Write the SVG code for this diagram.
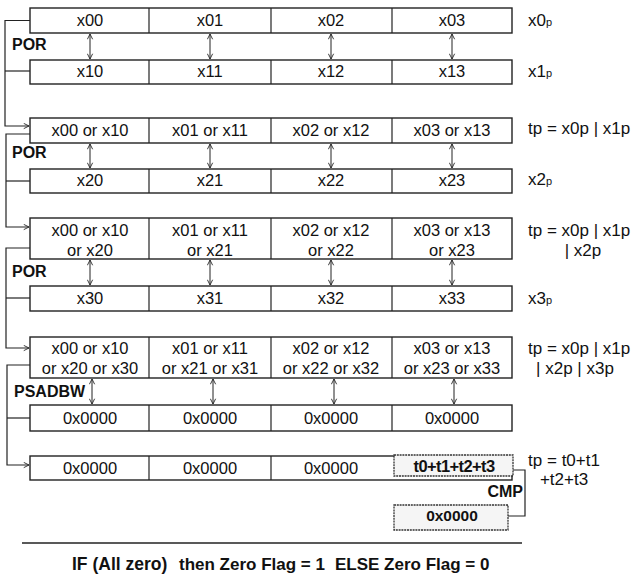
<svg xmlns="http://www.w3.org/2000/svg" width="635" height="576" viewBox="0 0 635 576">
<style>
.box{fill:#fff;stroke:#222;stroke-width:1.4}
.div{stroke:#222;stroke-width:1.2}
.c{font-family:"Liberation Sans",Arial,sans-serif;font-size:16.5px;fill:#111;text-anchor:middle}
.lb{font-family:"Liberation Sans",Arial,sans-serif;font-size:17px;fill:#111}
.op{font-family:"Liberation Sans",Arial,sans-serif;font-size:16px;font-weight:bold;fill:#111}
.sub{font-size:11px}
.ln{fill:none;stroke:#222;stroke-width:1.2}
.ar{fill:none;stroke:#222;stroke-width:1}
.dot{fill:#f5f5f5;stroke:#333;stroke-width:1.3;stroke-dasharray:2 0.8}
</style>
<defs>
<marker id="ah" viewBox="0 0 8 8" refX="7" refY="4" markerWidth="7" markerHeight="7" orient="auto-start-reverse" markerUnits="userSpaceOnUse">
<path d="M1,1 L7,4 L1,7" fill="none" stroke="#222" stroke-width="1"/>
</marker>
</defs>

<g id="row1">
<rect class="box" x="30" y="8" width="482" height="25"/>
<line class="div" x1="149" y1="8" x2="149" y2="33"/><line class="div" x1="271" y1="8" x2="271" y2="33"/><line class="div" x1="392" y1="8" x2="392" y2="33"/>
<text class="c" x="90" y="26">x00</text><text class="c" x="210" y="26">x01</text><text class="c" x="331" y="26">x02</text><text class="c" x="452" y="26">x03</text>
<text class="lb" x="528" y="26">x0<tspan class="sub">p</tspan></text>
</g>
<g id="row2">
<rect class="box" x="30" y="60" width="482" height="24"/>
<line class="div" x1="149" y1="60" x2="149" y2="84"/><line class="div" x1="271" y1="60" x2="271" y2="84"/><line class="div" x1="392" y1="60" x2="392" y2="84"/>
<text class="c" x="90" y="77">x10</text><text class="c" x="210" y="77">x11</text><text class="c" x="331" y="77">x12</text><text class="c" x="452" y="77">x13</text>
<text class="lb" x="528" y="77">x1<tspan class="sub">p</tspan></text>
</g>
<g id="row3">
<rect class="box" x="30" y="118" width="482" height="25"/>
<line class="div" x1="149" y1="118" x2="149" y2="143"/><line class="div" x1="271" y1="118" x2="271" y2="143"/><line class="div" x1="392" y1="118" x2="392" y2="143"/>
<text class="c" x="90" y="136">x00 or x10</text><text class="c" x="210" y="136">x01 or x11</text><text class="c" x="331" y="136">x02 or x12</text><text class="c" x="452" y="136">x03 or x13</text>
<text class="lb" x="528" y="134">tp = x0p | x1p</text>
</g>
<g id="row4">
<rect class="box" x="30" y="169" width="482" height="24"/>
<line class="div" x1="149" y1="169" x2="149" y2="193"/><line class="div" x1="271" y1="169" x2="271" y2="193"/><line class="div" x1="392" y1="169" x2="392" y2="193"/>
<text class="c" x="90" y="186">x20</text><text class="c" x="210" y="186">x21</text><text class="c" x="331" y="186">x22</text><text class="c" x="452" y="186">x23</text>
<text class="lb" x="528" y="185">x2<tspan class="sub">p</tspan></text>
</g>
<g id="row5">
<rect class="box" x="30" y="218" width="482" height="41"/>
<line class="div" x1="149" y1="218" x2="149" y2="259"/><line class="div" x1="271" y1="218" x2="271" y2="259"/><line class="div" x1="392" y1="218" x2="392" y2="259"/>
<text class="c" x="90" y="236">x00 or x10</text><text class="c" x="90" y="256">or x20</text>
<text class="c" x="210" y="236">x01 or x11</text><text class="c" x="210" y="256">or x21</text>
<text class="c" x="331" y="236">x02 or x12</text><text class="c" x="331" y="256">or x22</text>
<text class="c" x="452" y="236">x03 or x13</text><text class="c" x="452" y="256">or x23</text>
<text class="lb" x="528" y="236">tp = x0p | x1p</text>
<text class="lb" x="583" y="256" text-anchor="middle">| x2p</text>
</g>
<g id="row6">
<rect class="box" x="30" y="286" width="482" height="25"/>
<line class="div" x1="149" y1="286" x2="149" y2="311"/><line class="div" x1="271" y1="286" x2="271" y2="311"/><line class="div" x1="392" y1="286" x2="392" y2="311"/>
<text class="c" x="90" y="304">x30</text><text class="c" x="210" y="304">x31</text><text class="c" x="331" y="304">x32</text><text class="c" x="452" y="304">x33</text>
<text class="lb" x="528" y="304">x3<tspan class="sub">p</tspan></text>
</g>
<g id="row7">
<rect class="box" x="30" y="337" width="482" height="41"/>
<line class="div" x1="149" y1="337" x2="149" y2="378"/><line class="div" x1="271" y1="337" x2="271" y2="378"/><line class="div" x1="392" y1="337" x2="392" y2="378"/>
<text class="c" x="90" y="354">x00 or x10</text><text class="c" x="90" y="374">or x20 or x30</text>
<text class="c" x="210" y="354">x01 or x11</text><text class="c" x="210" y="374">or x21 or x31</text>
<text class="c" x="331" y="354">x02 or x12</text><text class="c" x="331" y="374">or x22 or x32</text>
<text class="c" x="452" y="354">x03 or x13</text><text class="c" x="452" y="374">or x23 or x33</text>
<text class="lb" x="528" y="354">tp = x0p | x1p</text>
<text class="lb" x="575" y="374" text-anchor="middle">| x2p | x3p</text>
</g>
<g id="row8">
<rect class="box" x="30" y="405" width="482" height="26"/>
<line class="div" x1="149" y1="405" x2="149" y2="431"/><line class="div" x1="271" y1="405" x2="271" y2="431"/><line class="div" x1="392" y1="405" x2="392" y2="431"/>
<text class="c" x="90" y="424">0x0000</text><text class="c" x="210" y="424">0x0000</text><text class="c" x="331" y="424">0x0000</text><text class="c" x="452" y="424">0x0000</text>
</g>
<g id="row9">
<rect class="box" x="30" y="456" width="482" height="24"/>
<line class="div" x1="149" y1="456" x2="149" y2="480"/><line class="div" x1="271" y1="456" x2="271" y2="480"/>
<text class="c" x="90" y="474">0x0000</text><text class="c" x="210" y="474">0x0000</text><text class="c" x="331" y="474">0x0000</text>
<rect class="dot" x="394" y="455" width="119" height="21"/>
<text class="c" x="454" y="472" style="font-weight:bold;letter-spacing:-0.6px">t0+t1+t2+t3</text>
<text class="lb" x="564" y="466" text-anchor="middle">tp = t0+t1</text>
<text class="lb" x="564" y="485" text-anchor="middle">+t2+t3</text>
</g>
<g id="cmp-result">
<rect class="dot" x="394" y="505" width="114" height="25"/>
<text class="c" x="452" y="521" style="font-weight:bold;font-size:15.5px">0x0000</text>
</g>

<g id="op-labels">
<text class="op" x="12" y="50">POR</text>
<text class="op" x="12" y="158">POR</text>
<text class="op" x="12" y="277">POR</text>
<text class="op" x="14" y="397">PSADBW</text>
<text class="op" x="523" y="497" text-anchor="end">CMP</text>
</g>

<g id="connectors">
<line class="ar" x1="90" y1="34" x2="90" y2="59" marker-start="url(#ah)" marker-end="url(#ah)"/>
<line class="ar" x1="210" y1="34" x2="210" y2="59" marker-start="url(#ah)" marker-end="url(#ah)"/>
<line class="ar" x1="331" y1="34" x2="331" y2="59" marker-start="url(#ah)" marker-end="url(#ah)"/>
<line class="ar" x1="452" y1="34" x2="452" y2="59" marker-start="url(#ah)" marker-end="url(#ah)"/>

<line class="ar" x1="90" y1="144" x2="90" y2="168" marker-start="url(#ah)" marker-end="url(#ah)"/>
<line class="ar" x1="210" y1="144" x2="210" y2="168" marker-start="url(#ah)" marker-end="url(#ah)"/>
<line class="ar" x1="331" y1="144" x2="331" y2="168" marker-start="url(#ah)" marker-end="url(#ah)"/>
<line class="ar" x1="452" y1="144" x2="452" y2="168" marker-start="url(#ah)" marker-end="url(#ah)"/>

<line class="ar" x1="90" y1="260" x2="90" y2="285" marker-start="url(#ah)" marker-end="url(#ah)"/>
<line class="ar" x1="210" y1="260" x2="210" y2="285" marker-start="url(#ah)" marker-end="url(#ah)"/>
<line class="ar" x1="331" y1="260" x2="331" y2="285" marker-start="url(#ah)" marker-end="url(#ah)"/>
<line class="ar" x1="452" y1="260" x2="452" y2="285" marker-start="url(#ah)" marker-end="url(#ah)"/>

<line class="ar" x1="92" y1="379" x2="92" y2="404" marker-start="url(#ah)" marker-end="url(#ah)"/>
<line class="ar" x1="213" y1="379" x2="213" y2="404" marker-start="url(#ah)" marker-end="url(#ah)"/>
<line class="ar" x1="334" y1="379" x2="334" y2="404" marker-start="url(#ah)" marker-end="url(#ah)"/>
<line class="ar" x1="454" y1="379" x2="454" y2="404" marker-start="url(#ah)" marker-end="url(#ah)"/>

<path class="ln" d="M30,20.5 H5 V126 H29" marker-end="url(#ah)"/>
<path class="ln" d="M5,71 H30"/>
<path class="ln" d="M30,134 H6 V227 H29" marker-end="url(#ah)"/>
<path class="ln" d="M6,181 H30"/>
<path class="ln" d="M30,248 H6 V348 H29" marker-end="url(#ah)"/>
<path class="ln" d="M6,298 H30"/>
<path class="ln" d="M30,365 H7 V465 H29" marker-end="url(#ah)"/>
<path class="ln" d="M7,418 H30"/>

<path class="ln" d="M513,470 H525 V516 H508"/>
</g>

<g id="footer">
<line x1="22" y1="543" x2="522" y2="543" stroke="#222" stroke-width="1.5"/>
<text class="op" x="72" y="570" style="font-size:17.5px">IF (All zero)</text>
<text class="op" x="179" y="570" style="font-size:17px">then Zero Flag = 1</text>
<text class="op" x="335" y="570" style="font-size:17px">ELSE Zero Flag = 0</text>
</g>
</svg>
